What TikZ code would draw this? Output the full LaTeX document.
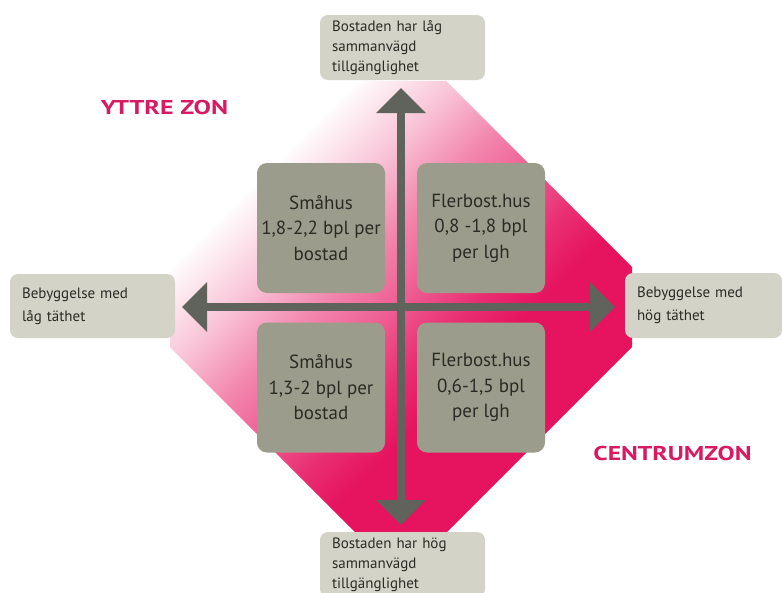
\documentclass[tikz,border=0pt]{standalone}
\usepackage{fontspec}
\setmainfont{PT Sans}
\usetikzlibrary{arrows.meta}
\definecolor{pinkc}{HTML}{E6135F}
\definecolor{boxgray}{HTML}{9C9C8C}
\definecolor{lblgray}{HTML}{D4D3C7}
\definecolor{axisgray}{HTML}{5F635B}
\definecolor{zonepink}{HTML}{D91A62}
\definecolor{txt}{HTML}{2B2B25}
\pgfdeclarehorizontalshading{zoneshade}{100bp}{color(0bp)=(white); color(26bp)=(white); color(35bp)=(pinkc!25); color(43bp)=(pinkc!52); color(50bp)=(pinkc!70); color(56bp)=(pinkc!88); color(62bp)=(pinkc); color(100bp)=(pinkc)}
\begin{document}
\begin{tikzpicture}[x=1pt,y=-1pt,
  quad/.style={fill=boxgray, rounded corners=10pt, minimum width=128pt, minimum height=130pt, align=center, font=\fontsize{19}{25.5}\selectfont, text=txt, inner sep=0pt},
  lbl/.style={fill=lblgray, rounded corners=8pt, align=left, text=txt, inner ysep=0pt, inner xsep=12pt},
  lblsmall/.style={lbl, font=\fontsize{15}{20}\selectfont},
  lblside/.style={lbl, font=\fontsize{15}{23}\selectfont},
  zone/.style={font=\fontsize{20}{24}\selectfont\bfseries, text=zonepink, inner sep=0pt},
  axisarrow/.style={draw=axisgray, line width=8pt, {Triangle[length=25pt,width=48pt]}-{Triangle[length=25pt,width=48pt]}}
]
\useasboundingbox (0,0) rectangle (782,592);
\fill[white] (0,0) rectangle (782,592);
% gradient octagon
\begin{scope}
\clip (356,81) -- (446,81) -- (632,267) -- (632,347) -- (446,533) -- (356,533) -- (170,347) -- (170,267) -- cycle;
\begin{scope}[transform canvas={rotate around={-45:(401,307)}}]
\shade[shading=zoneshade] (201,-23) rectangle (601,637);
\end{scope}
\end{scope}
% label boxes
\node[lblsmall, minimum width=165pt, minimum height=65pt, text width=141pt] (top) at (402.5,47.5) {Bostaden har låg\\sammanvägd\\tillgänglighet};
\node[lblsmall, minimum width=165pt, minimum height=65pt, text width=141pt] (bottom) at (402.5,564.5) {Bostaden har hög\\sammanvägd\\tillgänglighet};
\node[lblside, minimum width=165pt, minimum height=64pt, text width=141pt] (left) at (92.5,306) {Bebyggelse med\\låg täthet};
\node[lblside, minimum width=157pt, minimum height=65pt, text width=133pt] (right) at (703.5,305.5) {Bebyggelse med\\hög täthet};
% quadrant boxes
\node[quad] (tl) at (321,228) {Småhus\\1,8-2,2 bpl per\\bostad};
\node[quad] (tr) at (481,228) {Flerbost.hus\\0,8 -1,8 bpl\\per lgh};
\node[quad] (bl) at (321,387.5) {Småhus\\1,3-2 bpl per\\bostad};
\node[quad] (br) at (481,387.5) {Flerbost.hus\\0,6-1,5 bpl\\per lgh};
% axes
\coordinate (ttip) at (401,88);
\coordinate (btip) at (401,525);
\coordinate (ltip) at (182,307);
\coordinate (rtip) at (615,307);
\draw[axisarrow] (btip) -- (ttip);
\draw[axisarrow] (ltip) -- (rtip);
% zone labels
\node[zone] (yttre) at (164.5,107) {\scalebox{1.3}[1]{YTTRE ZON}};
\node[zone] (centrum) at (672.5,453) {\scalebox{1.28}[1]{CENTRUMZON}};
\end{tikzpicture}
\end{document}
